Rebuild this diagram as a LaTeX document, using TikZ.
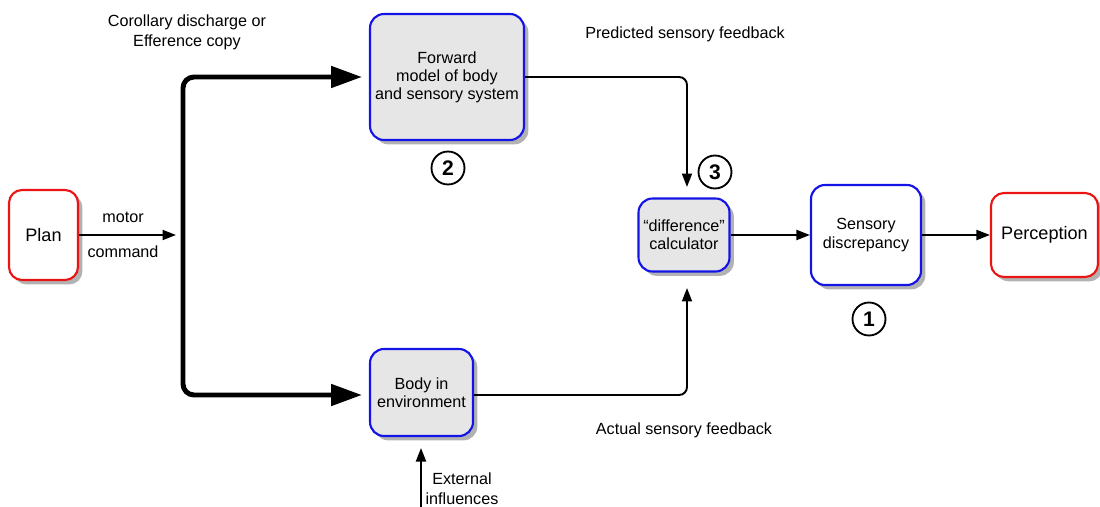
\documentclass[tikz,border=0pt]{standalone}
\usepackage{fontspec}
\setmainfont{Liberation Sans}
\usetikzlibrary{arrows.meta,shadows}
\definecolor{bblue}{RGB}{20,20,230}
\definecolor{rred}{RGB}{235,20,20}
\definecolor{boxgray}{RGB}{230,230,230}
\begin{document}
\begin{tikzpicture}[x=0.02cm,y=-0.02cm,
  shadowed/.style={drop shadow={shadow xshift=2.5pt,shadow yshift=-2.5pt,fill=black,opacity=0.3}},
  bluebox/.style={draw=bblue,line width=1.2pt,fill=boxgray,rounded corners=0.28cm,shadowed,
    align=center,inner sep=0pt,font=\fontsize{9.2}{10.3}\selectfont},
  whitebox/.style={bluebox,fill=white},
  redbox/.style={draw=rred,line width=1.2pt,fill=white,rounded corners=0.26cm,shadowed,
    align=center,inner sep=0pt,font=\fontsize{10.3}{12}\selectfont},
  lbl/.style={align=center,inner sep=0pt,font=\fontsize{9.2}{11.3}\selectfont},
  num/.style={circle,draw,line width=1.05pt,minimum size=0.66cm,inner sep=0pt,font=\fontsize{12}{14}\selectfont\bfseries},
  thin/.style={line width=1.1pt,-{Triangle[length=0.27cm,width=0.2cm]},rounded corners=0.16cm},
  thickc/.style={line width=2.8pt,{Triangle[length=0.62cm,width=0.42cm]}-{Triangle[length=0.62cm,width=0.42cm]},rounded corners=0.22cm}
]
\useasboundingbox (0,0) rectangle (1100,507);

\node[redbox,minimum width=1.38cm,minimum height=1.8cm] (plan) at (43.5,235) {Plan};
\node[bluebox,minimum width=3.08cm,minimum height=2.52cm] (fwd) at (447,77) {Forward\\model of body\\and sensory system};
\node[bluebox,minimum width=2.06cm,minimum height=1.74cm] (body) at (421.5,392.5) {Body in\\environment};
\node[bluebox,minimum width=1.82cm,minimum height=1.46cm] (diff) at (684,235) {“difference”\\calculator};
\node[whitebox,minimum width=2.2cm,minimum height=2cm] (sens) at (866,235) {Sensory\\discrepancy};
\node[redbox,minimum width=2.14cm,minimum height=1.68cm] (perc) at (1044.5,235) {Perception};

\node[num] (n2) at (448,168) {2};
\node[num] (n3) at (715,172) {3};
\node[num] (n1) at (869,319) {1};

\node[lbl] (corl) at (187,32) {Corollary discharge or\\Efference copy};
\node[lbl] (pred) at (685,34) {Predicted sensory feedback};
\node[lbl] (act) at (684,430) {Actual sensory feedback};
\node[lbl] (ext) at (462,489) {External\\influences};
\node[lbl] (mot) at (123,217) {motor};
\node[lbl] (cmd) at (123,252) {command};

\coordinate (mc) at (176,235);
\coordinate (fa) at (362,77);
\coordinate (ba) at (362,395);
\coordinate (mid) at (183,235);
\coordinate (dtop) at (687,187);
\coordinate (dbot) at (687,288);
\coordinate (exs) at (421,507);
\coordinate (ext2) at (421,448);

\draw[thin] (plan.east) -- (mc);
\draw[thickc] (fa) -| (mid) |- (ba);
\draw[thin] (fwd.east |- fa) -| (dtop);
\draw[thin] (body.east |- ba) -| (dbot);
\draw[thin] (diff.east) -- (sens.west);
\draw[thin] (sens.east) -- (perc.west);
\draw[thin] (exs) -- (ext2);
\end{tikzpicture}
\end{document}
